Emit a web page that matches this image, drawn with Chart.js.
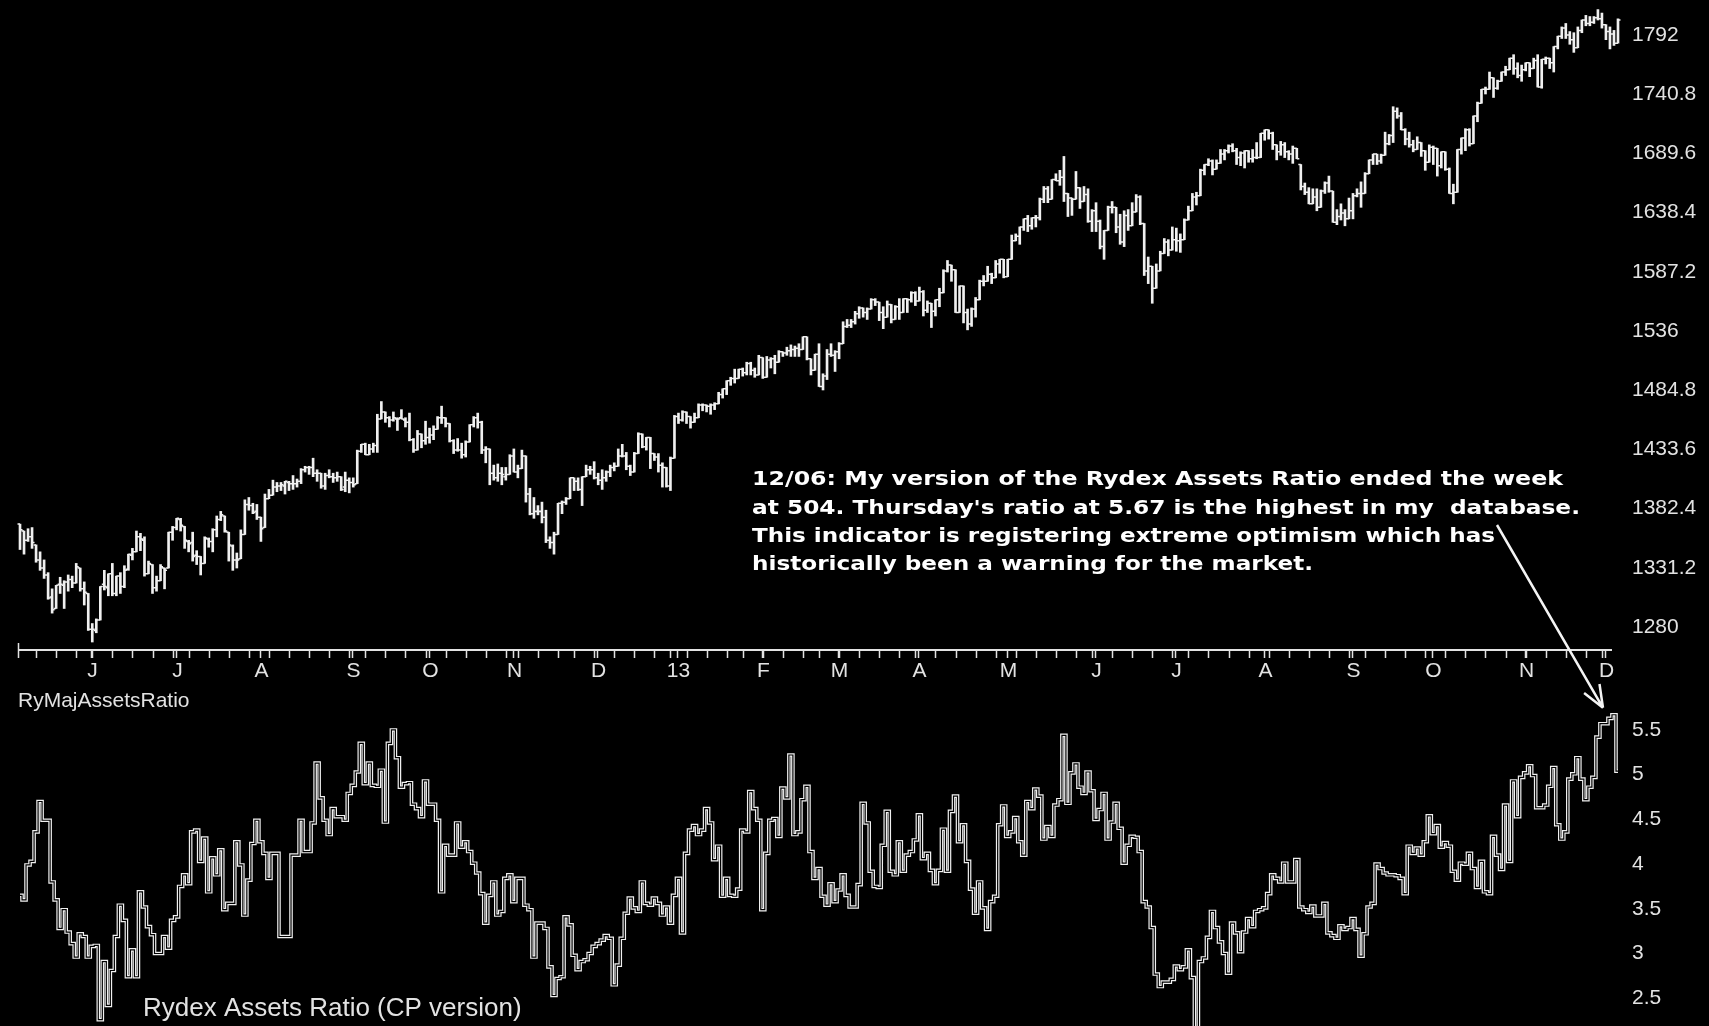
<!DOCTYPE html>
<html>
<head>
<meta charset="utf-8">
<script src="https://cdn.jsdelivr.net/npm/chart.js@4.4.1/dist/chart.umd.min.js"></script>
<style>
  html, body { margin: 0; padding: 0; background: #000; }
  #wrap { position: relative; width: 1709px; height: 1026px; overflow: hidden; background: #000; }
  canvas { position: absolute; left: 0; }
  #price { top: 0; }
  #ratioCanvas { top: 690px; }
  #overlay { top: 0; pointer-events: none; }
</style>
</head>
<body>
<div id="wrap">
  <canvas id="price" width="1709" height="690"></canvas>
  <canvas id="ratioCanvas" width="1709" height="336"></canvas>
  <canvas id="overlay" width="1709" height="1026"></canvas>
</div>
<script>
// trading days: first session and market holidays in the window
const startDate = "2012-05-08";
const holidays = ["2012-05-28", "2012-07-04", "2012-09-03", "2012-10-29", "2012-10-30", "2012-11-22",
  "2012-12-25", "2013-01-01", "2013-01-21", "2013-02-18", "2013-03-29", "2013-05-27", "2013-07-04",
  "2013-09-02", "2013-11-28"];
const monthLetters = ["13", "F", "M", "A", "M", "J", "J", "A", "S", "O", "N", "D"];

// S&P 500 daily bars (one line per month)
const opens = [
  1369,1363,1355,1358,1351,1338,1331,1325,1306,1296,1317,1316,1319,1321,1318,1331,1313,
  1309,1278,1277,1286,1317,1314,1326,1309,1324,1315,1330,1342,1345,1358,1355,1326,1334,1314,1320,1331,1331,
  1362,1366,1373,1367,1354,1353,1342,1341,1335,1356,1354,1364,1373,1376,1362,1350,1338,1339,1360,1386,1385,
  1380,1375,1366,1391,1394,1401,1402,1402,1405,1404,1404,1406,1416,1418,1418,1413,1413,1402,1411,1410,1409,1410,1401,
  1407,1405,1404,1432,1438,1429,1434,1437,1460,1466,1461,1459,1460,1461,1459,1457,1442,1433,1447,
  1441,1444,1446,1451,1461,1461,1456,1441,1433,1433,1429,1440,1455,1461,1457,1433,1434,1413,1409,1413,1410,
  1412,1428,1414,1417,1428,1395,1378,1380,1380,1375,1355,1353,1360,1387,1388,1391,1409,1406,1399,1410,1416,
  1416,1409,1407,1409,1414,1418,1419,1428,1428,1419,1414,1430,1447,1436,1444,1430,1427,1420,1418,1402,
  1426,1462,1459,1466,1462,1457,1461,1472,1472,1471,1472,1473,1481,1486,1493,1495,1495,1503,1500,1508,1502,
  1498,1513,1496,1511,1512,1509,1518,1517,1519,1520,1521,1520,1531,1512,1502,1516,1488,1497,1516,
  1515,1518,1525,1540,1541,1544,1551,1556,1552,1555,1563,1561,1552,1548,1559,1546,1557,1552,1564,1563,
  1569,1562,1570,1554,1560,1553,1563,1569,1588,1593,1589,1552,1575,1552,1542,1555,1563,1579,1579,1585,1582,1594,
  1598,1583,1598,1614,1618,1626,1633,1627,1634,1634,1650,1659,1650,1667,1666,1669,1655,1651,1650,1660,1648,1654,
  1631,1640,1631,1609,1623,1643,1643,1626,1613,1636,1627,1639,1652,1629,1588,1592,1573,1588,1603,1613,
  1606,1615,1614,1615,1632,1640,1652,1653,1675,1680,1683,1676,1681,1689,1692,1696,1692,1686,1690,1692,1685,1686,
  1686,1707,1710,1707,1697,1691,1697,1691,1689,1694,1680,1661,1656,1646,1652,1643,1657,1664,1657,1630,1635,1638,
  1633,1640,1653,1655,1655,1672,1684,1689,1683,1688,1698,1705,1726,1722,1710,1702,1697,1693,1699,1692,
  1682,1695,1694,1679,1691,1676,1655,1656,1693,1703,1710,1698,1722,1733,1745,1745,1755,1746,1752,1760,1762,1772,1763,
  1757,1762,1768,1763,1770,1747,1771,1772,1768,1782,1791,1798,1792,1788,1781,1796,1805,1802,1803,1807,
  1806,1801,1795,1793,1785
];
const highs = [
  1369,1363,1365,1366,1351,1345,1338,1327,1313,1316,1323,1320,1325,1324,1335,1331,1319,
  1309,1283,1287,1315,1329,1326,1335,1324,1327,1333,1343,1348,1363,1361,1358,1337,1334,1324,1334,1331,1362,
  1367,1374,1374,1367,1355,1362,1346,1341,1358,1357,1365,1376,1380,1376,1362,1351,1344,1364,1390,1392,1387,
  1386,1375,1395,1399,1407,1405,1405,1406,1406,1411,1408,1417,1419,1419,1426,1416,1413,1413,1416,1413,1414,1410,1414,
  1409,1409,1433,1438,1439,1438,1439,1464,1475,1466,1462,1466,1461,1468,1461,1465,1443,1450,1447,
  1458,1452,1454,1462,1471,1461,1456,1442,1443,1439,1441,1455,1462,1465,1458,1436,1434,1420,1421,1418,1418,
  1429,1434,1420,1433,1428,1400,1392,1385,1388,1381,1358,1362,1387,1389,1392,1409,1409,1409,1410,1420,1419,
  1423,1413,1416,1415,1420,1422,1434,1438,1431,1420,1431,1448,1447,1444,1444,1430,1430,1422,1418,1427,
  1463,1465,1467,1466,1462,1465,1473,1473,1472,1473,1474,1483,1486,1493,1496,1503,1503,1504,1509,1509,1504,
  1515,1513,1514,1513,1515,1519,1518,1522,1524,1523,1525,1531,1531,1512,1516,1525,1499,1520,1525,
  1519,1526,1544,1546,1546,1553,1557,1556,1556,1564,1564,1561,1557,1562,1559,1558,1564,1564,1564,1570,
  1570,1574,1571,1562,1560,1563,1573,1589,1597,1593,1589,1575,1575,1555,1556,1565,1580,1584,1592,1586,1597,1598,
  1598,1598,1619,1620,1626,1633,1636,1634,1636,1651,1661,1661,1667,1672,1675,1687,1655,1651,1674,1660,1661,1659,
  1641,1647,1632,1623,1644,1648,1643,1637,1640,1641,1647,1654,1653,1629,1600,1592,1594,1605,1616,1615,
  1626,1625,1620,1633,1644,1655,1656,1676,1680,1685,1684,1684,1693,1693,1697,1698,1694,1691,1692,1692,1693,1699,
  1707,1710,1710,1708,1697,1700,1699,1692,1696,1694,1680,1664,1660,1659,1659,1658,1665,1670,1657,1641,1646,1641,
  1651,1655,1659,1665,1673,1684,1689,1689,1689,1708,1706,1730,1729,1725,1711,1708,1701,1704,1699,1692,
  1697,1696,1694,1691,1691,1677,1663,1693,1703,1711,1711,1722,1734,1745,1747,1760,1755,1753,1760,1765,1772,1775,1768,
  1766,1768,1768,1772,1775,1771,1773,1772,1782,1791,1799,1802,1795,1794,1799,1805,1809,1808,1808,1814,
  1811,1801,1799,1796,1806
];
const lows = [
  1347,1343,1354,1348,1336,1329,1322,1304,1292,1296,1309,1296,1311,1314,1318,1311,1299,
  1277,1267,1275,1286,1312,1307,1307,1307,1309,1314,1329,1338,1345,1346,1324,1326,1309,1311,1320,1313,1331,
  1355,1364,1363,1348,1345,1337,1334,1325,1335,1349,1345,1358,1372,1362,1337,1329,1331,1339,1360,1381,1378,
  1373,1354,1366,1391,1394,1397,1398,1395,1398,1399,1401,1404,1414,1412,1410,1406,1400,1399,1409,1405,1406,1398,1397,
  1396,1401,1404,1431,1429,1429,1431,1431,1460,1457,1453,1458,1450,1460,1453,1441,1431,1433,1435,
  1438,1439,1442,1451,1456,1453,1440,1430,1432,1426,1427,1440,1453,1452,1430,1422,1403,1407,1406,1403,1407,
  1412,1414,1409,1417,1388,1377,1374,1377,1370,1353,1348,1343,1360,1378,1386,1391,1398,1398,1385,1410,1412,
  1408,1403,1399,1406,1410,1415,1419,1427,1416,1411,1414,1430,1435,1433,1417,1424,1414,1401,1401,1398,
  1426,1456,1458,1456,1452,1457,1461,1467,1466,1464,1468,1473,1478,1481,1489,1491,1495,1497,1498,1498,1496,
  1498,1495,1496,1504,1499,1509,1514,1515,1514,1514,1514,1520,1511,1498,1502,1488,1485,1494,1514,
  1501,1512,1525,1539,1539,1542,1547,1548,1546,1555,1558,1545,1538,1548,1543,1546,1546,1552,1552,1561,
  1558,1562,1549,1552,1539,1549,1557,1569,1587,1579,1552,1552,1543,1537,1540,1548,1563,1575,1579,1577,1582,1586,
  1582,1583,1598,1614,1611,1623,1622,1624,1626,1632,1647,1647,1650,1666,1662,1648,1635,1636,1650,1642,1648,1630,
  1622,1622,1607,1598,1623,1638,1621,1611,1609,1623,1627,1639,1628,1584,1577,1560,1573,1588,1603,1601,
  1606,1605,1604,1615,1632,1640,1645,1653,1671,1679,1671,1676,1681,1684,1690,1691,1680,1679,1677,1682,1682,1685,
  1686,1701,1702,1693,1684,1688,1686,1684,1681,1685,1658,1654,1646,1646,1640,1643,1655,1656,1630,1628,1632,1627,
  1633,1633,1652,1643,1655,1672,1680,1680,1681,1688,1697,1699,1720,1710,1697,1695,1691,1693,1687,1675,
  1682,1680,1670,1677,1675,1655,1646,1656,1689,1692,1696,1698,1717,1733,1741,1745,1738,1745,1752,1757,1762,1758,1755,
  1752,1761,1756,1763,1747,1746,1767,1763,1760,1780,1789,1789,1784,1777,1781,1794,1800,1800,1802,1805,
  1798,1788,1780,1783,1785
];
const closes = [
  1364,1355,1358,1353,1338,1331,1325,1305,1295,1316,1317,1319,1321,1318,1332,1313,1310,
  1278,1278,1286,1315,1315,1326,1309,1324,1315,1329,1343,1345,1358,1356,1326,1335,1314,1320,1332,1329,1362,
  1366,1374,1368,1355,1352,1341,1341,1335,1357,1354,1364,1373,1377,1363,1351,1338,1338,1360,1386,1385,1379,
  1375,1365,1391,1394,1401,1402,1403,1406,1404,1404,1406,1416,1418,1418,1413,1413,1402,1411,1410,1409,1410,1399,1407,
  1405,1403,1432,1438,1429,1434,1437,1460,1466,1461,1459,1461,1460,1460,1457,1442,1433,1447,1441,
  1444,1446,1451,1461,1461,1456,1441,1433,1433,1429,1440,1455,1461,1457,1433,1434,1413,1409,1413,1412,1412,
  1428,1414,1417,1428,1395,1378,1380,1380,1375,1355,1353,1360,1387,1388,1391,1409,1406,1399,1410,1416,1416,
  1409,1407,1409,1414,1418,1419,1428,1428,1419,1414,1430,1447,1436,1444,1430,1427,1420,1418,1402,1426,
  1462,1459,1466,1462,1457,1461,1472,1472,1471,1472,1473,1481,1486,1493,1495,1495,1503,1500,1508,1502,1498,
  1513,1496,1511,1512,1509,1518,1517,1519,1520,1521,1520,1531,1512,1502,1516,1488,1497,1516,1515,
  1518,1525,1540,1541,1544,1551,1556,1552,1555,1563,1561,1552,1548,1559,1546,1557,1552,1564,1563,1569,
  1562,1570,1554,1560,1553,1563,1569,1588,1593,1589,1552,1575,1552,1542,1555,1563,1579,1579,1585,1582,1594,1598,
  1583,1598,1614,1618,1626,1633,1627,1634,1634,1650,1659,1650,1667,1666,1669,1655,1651,1650,1660,1648,1654,1631,
  1640,1631,1609,1623,1643,1643,1626,1613,1636,1627,1639,1652,1629,1588,1592,1573,1588,1603,1613,1606,
  1615,1614,1615,1632,1640,1652,1653,1675,1680,1683,1676,1681,1689,1692,1696,1692,1686,1690,1692,1685,1686,1686,
  1707,1710,1707,1697,1691,1697,1691,1689,1694,1685,1661,1656,1646,1652,1643,1657,1664,1657,1630,1635,1638,1633,
  1640,1653,1655,1655,1672,1684,1689,1683,1688,1698,1705,1726,1722,1710,1702,1697,1693,1699,1692,1682,
  1695,1694,1679,1691,1676,1655,1656,1693,1703,1710,1698,1722,1733,1745,1745,1755,1746,1752,1760,1762,1772,1763,1757,
  1762,1768,1763,1770,1747,1771,1772,1768,1782,1791,1798,1792,1788,1781,1796,1805,1802,1803,1807,1806,
  1801,1795,1793,1785,1805
];

// Rydex assets ratio, one value per session
const ratio = [
  3.65,3.60,3.99,4.03,4.36,4.70,4.49,4.49,3.80,3.60,3.28,3.49,3.24,3.11,2.96,3.22,3.19,2.96,3.08,3.09,
  2.26,2.91,2.42,2.81,3.19,3.54,3.37,2.74,3.04,2.74,3.69,3.52,3.30,3.21,3.00,3.00,3.19,3.06,3.37,3.41,
  3.75,3.88,3.78,4.36,4.38,4.03,4.29,3.69,4.07,3.88,4.16,3.49,3.56,3.56,4.25,3.99,3.43,3.82,4.23,4.49,
  4.25,4.12,3.84,4.12,4.12,3.19,3.19,3.19,4.10,4.10,4.49,4.14,4.14,4.46,5.13,4.74,4.49,4.33,4.62,4.53,
  4.53,4.49,4.79,4.88,5.03,5.35,4.90,5.13,4.88,4.87,5.05,4.47,5.35,5.50,5.19,4.86,4.90,4.91,4.67,4.62,
  4.53,4.93,4.67,4.67,4.49,3.69,4.21,4.10,4.10,4.46,4.19,4.25,4.14,4.01,3.90,3.67,3.34,3.65,3.80,3.43,
  3.47,3.84,3.88,3.58,3.84,3.84,3.54,3.49,2.96,3.34,3.34,3.28,2.85,2.53,2.72,
  2.74,3.41,3.32,2.98,2.82,2.91,2.93,3.00,3.08,3.11,3.15,3.20,3.17,2.65,2.87,3.17,3.45,3.62,3.51,3.47,
  3.80,3.56,3.54,3.62,3.56,3.43,3.52,3.34,3.65,3.84,3.23,4.12,4.38,4.43,4.33,4.38,4.62,4.46,4.05,4.20,
  3.64,3.84,3.65,3.64,3.72,4.38,4.36,4.81,4.62,4.49,3.49,4.12,4.49,4.51,4.31,4.85,4.74,5.22,4.33,4.36,
  4.72,4.87,4.14,3.84,3.95,3.64,3.54,3.78,3.58,3.71,3.88,3.65,3.52,3.52,3.77,4.68,4.46,3.92,3.75,3.74,
  4.21,4.59,3.92,3.88,4.25,3.92,4.10,4.14,4.27,4.55,4.06,4.12,3.93,3.78,3.93,4.39,3.92,4.59,4.76,4.25,
  4.44,4.03,3.72,3.45,3.80,3.51,3.27,3.58,3.64,4.44,4.65,4.31,4.36,4.52,4.25,4.10,4.70,4.62,4.84,4.76,
  4.28,4.42,4.31,4.66,4.72,5.44,4.68,5.02,5.12,4.86,4.79,5.03,4.82,4.50,4.61,4.79,4.28,4.47,4.68,4.40,
  4.01,4.21,4.31,4.30,4.14,3.58,3.52,3.29,2.77,2.63,2.68,2.68,2.71,2.86,2.82,2.85,3.04,2.73,2.10,2.91,
  2.95,3.18,3.47,3.29,3.13,3.00,2.78,3.34,3.23,3.02,3.24,3.39,3.30,3.47,3.49,3.51,3.67,3.88,3.84,3.80,
  4.01,3.80,3.80,4.05,3.52,3.49,3.46,3.53,3.42,3.42,3.56,3.23,3.20,3.17,3.31,3.27,3.29,3.39,3.27,2.97,
  3.22,3.52,3.56,4.00,3.95,3.90,3.88,3.88,3.87,3.84,3.67,4.20,4.12,4.18,4.10,4.25,4.54,4.34,4.43,4.19,
  4.24,4.20,3.92,3.82,4.01,4.00,4.12,3.95,3.74,4.03,3.69,3.67,4.31,4.10,3.94,4.66,4.03,4.93,4.53,4.97,
  5.02,5.10,4.99,4.63,4.63,4.66,4.87,5.08,4.44,4.28,4.36,4.95,5.01,5.19,4.95,4.72,4.86,4.97,5.42,5.57,
  5.57,5.63,5.67,5.04
];

const priceTicks = [1280, 1331.2, 1382.4, 1433.6, 1484.8, 1536, 1587.2, 1638.4, 1689.6, 1740.8, 1792];
const ratioTicks = [2.5, 3, 3.5, 4, 4.5, 5, 5.5];

const noteLines = [
  "12/06: My version of the Rydex Assets Ratio ended the week",
  "at 504. Thursday's ratio at 5.67 is the highest in my  database.",
  "This indicator is registering extreme optimism which has",
  "historically been a warning for the market."
];
// right end of each note line, as laid out in the original
const noteRight = [1563, 1580, 1495, 1313];

// build the session calendar
const dates = [];
let d = new Date(startDate + "T00:00:00Z");
while (dates.length < closes.length) {
  const iso = d.toISOString().slice(0, 10);
  const wd = d.getUTCDay();
  if (wd !== 0 && wd !== 6 && !holidays.includes(iso)) dates.push(new Date(d));
  d.setUTCDate(d.getUTCDate() + 1);
}
const labels = dates.map((_, i) => i);

const TXT = "#e2e2e2";
const FONT = '"Liberation Sans", Arial, sans-serif';

const fixAxis = (s) => {
  s.width = 89;
  s.paddingTop = 0;
  s.paddingBottom = 0;
};

// open / close ticks on the bars
const ohlcTicks = {
  id: "ohlcTicks",
  afterDatasetsDraw(chart) {
    const { ctx, scales: { x, y } } = chart;
    ctx.save();
    ctx.strokeStyle = "#f0f0f0";
    ctx.lineWidth = 1.5;
    ctx.beginPath();
    closes.forEach((c, i) => {
      const xc = x.getPixelForValue(i);
      const yo = y.getPixelForValue(opens[i]);
      const yc = y.getPixelForValue(c);
      ctx.moveTo(xc - 2.5, yo);
      ctx.lineTo(xc, yo);
      ctx.moveTo(xc, yc);
      ctx.lineTo(xc + 2.5, yc);
    });
    ctx.stroke();
    ctx.restore();
  }
};

// date axis under the price panel
const dateAxis = {
  id: "dateAxis",
  afterDraw(chart) {
    const { ctx, chartArea, scales: { x } } = chart;
    const y0 = chartArea.bottom;
    ctx.save();
    ctx.strokeStyle = TXT;
    ctx.lineWidth = 2;
    ctx.beginPath();
    ctx.moveTo(chartArea.left, y0);
    ctx.lineTo(x.getPixelForValue(dates.length - 1) - 6, y0);
    ctx.stroke();

    ctx.lineWidth = 1.5;
    ctx.beginPath();
    ctx.moveTo(chartArea.left + 0.5, y0 - 7);
    ctx.lineTo(chartArea.left + 0.5, y0 + 8);
    ctx.font = "21px " + FONT;
    ctx.fillStyle = TXT;
    ctx.textAlign = "center";
    ctx.textBaseline = "middle";
    dates.forEach((dt, i) => {
      if (i === 0) return;
      const prev = dates[i - 1];
      const px = Math.round(x.getPixelForValue(i)) + 0.5;
      if (dt.getUTCDay() < prev.getUTCDay()) {
        ctx.moveTo(px, y0);
        ctx.lineTo(px, y0 + 8);
      }
      if (dt.getUTCMonth() !== prev.getUTCMonth()) {
        ctx.moveTo(px + 3, y0);
        ctx.lineTo(px + 3, y0 + 8);
        ctx.fillText(monthLetters[dt.getUTCMonth()], px + 4, y0 + 21);
      }
    });
    ctx.stroke();
    ctx.restore();
  }
};

const priceChart = new Chart(document.getElementById("price"), {
  type: "bar",
  data: {
    labels: labels,
    datasets: [{
      data: lows.map((l, i) => [l, highs[i]]),
      backgroundColor: "#f0f0f0",
      borderWidth: 0,
      barThickness: 2
    }]
  },
  options: {
    responsive: false,
    animation: false,
    devicePixelRatio: 1,
    layout: { padding: { left: 18, right: 0, top: 0, bottom: 40 } },
    plugins: { legend: { display: false }, tooltip: { enabled: false } },
    scales: {
      x: { display: false, offset: true },
      y: {
        position: "right",
        min: 1260.1,
        max: 1822.3,
        afterFit: fixAxis,
        afterBuildTicks: (s) => { s.ticks = priceTicks.map((v) => ({ value: v })); },
        grid: { display: false },
        border: { display: false },
        ticks: {
          color: TXT,
          padding: 4,
          font: { family: FONT, size: 21 },
          callback: (v) => String(Math.round(v * 10) / 10)
        }
      }
    }
  },
  plugins: [ohlcTicks, dateAxis]
});

// panel captions
const ratioText = {
  id: "ratioText",
  afterDraw(chart) {
    const { ctx } = chart;
    ctx.save();
    ctx.fillStyle = TXT;
    ctx.textBaseline = "middle";
    ctx.font = "21px " + FONT;
    ctx.fillText("RyMajAssetsRatio", 18, 11);
    ctx.font = "26px " + FONT;
    ctx.fillText("Rydex Assets Ratio (CP version)", 143, 319);
    ctx.restore();
  }
};

const ratioChart = new Chart(document.getElementById("ratioCanvas"), {
  type: "line",
  data: {
    labels: labels,
    datasets: [
      { data: ratio, borderColor: "#000", borderWidth: 1.2, stepped: "middle", pointRadius: 0, order: 0 },
      { data: ratio, borderColor: "#f0f0f0", borderWidth: 3.6, stepped: "middle", pointRadius: 0, order: 1 }
    ]
  },
  options: {
    responsive: false,
    animation: false,
    devicePixelRatio: 1,
    layout: { padding: { left: 18, right: 0, top: 0, bottom: 0 } },
    plugins: { legend: { display: false }, tooltip: { enabled: false } },
    scales: {
      x: { display: false, offset: true },
      y: {
        position: "right",
        min: 2.189,
        max: 5.947,
        afterFit: fixAxis,
        afterBuildTicks: (s) => { s.ticks = ratioTicks.map((v) => ({ value: v })); },
        grid: { display: false },
        border: { display: false },
        ticks: {
          color: TXT,
          padding: 4,
          font: { family: FONT, size: 21 },
          callback: (v) => String(v)
        }
      }
    }
  },
  plugins: [ratioText]
});

// annotation and arrow
const ov = document.getElementById("overlay").getContext("2d");
ov.fillStyle = "#ffffff";
ov.font = 'bold 20px "DejaVu Sans", sans-serif';
ov.textBaseline = "middle";
noteLines.forEach((line, k) => {
  const sx = (noteRight[k] - 752) / ov.measureText(line).width;
  ov.save();
  ov.translate(752, 480 + k * 28.3);
  ov.scale(sx, 1);
  ov.fillText(line, 0, 0);
  ov.restore();
});

const tipX = ratioChart.scales.x.getPixelForValue(397) - 11;
const tipY = 690 + ratioChart.scales.y.getPixelForValue(5.67) - 7;
const fromX = 1497, fromY = 525;
const ang = Math.atan2(tipY - fromY, tipX - fromX);
ov.strokeStyle = "#f4f4f4";
ov.lineWidth = 2.5;
ov.beginPath();
ov.moveTo(fromX, fromY);
ov.lineTo(tipX, tipY);
ov.moveTo(tipX, tipY);
ov.lineTo(tipX - 24 * Math.cos(ang - 0.38), tipY - 24 * Math.sin(ang - 0.38));
ov.moveTo(tipX, tipY);
ov.lineTo(tipX - 24 * Math.cos(ang + 0.38), tipY - 24 * Math.sin(ang + 0.38));
ov.stroke();
</script>
</body>
</html>
